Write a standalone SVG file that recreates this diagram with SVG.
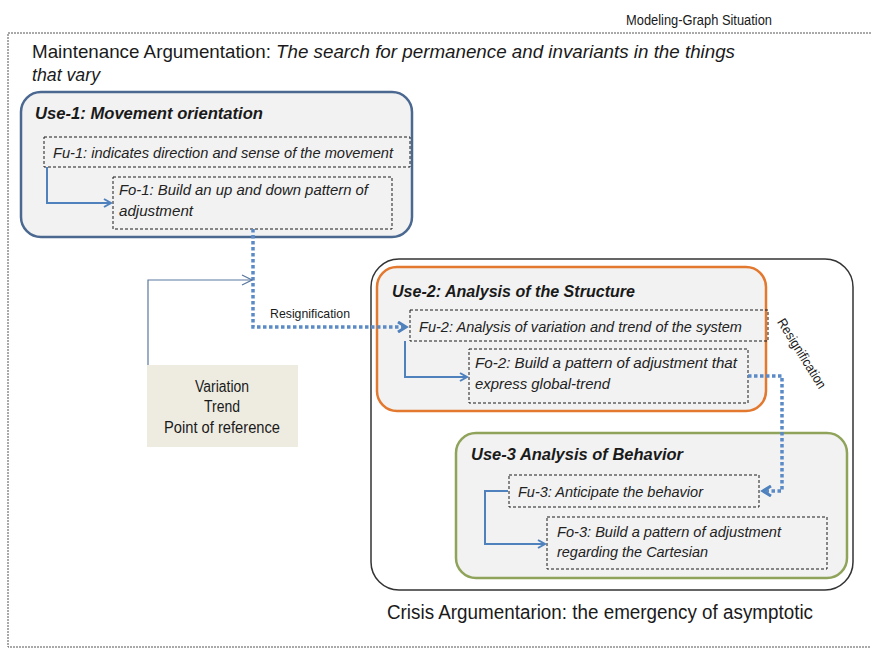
<svg xmlns="http://www.w3.org/2000/svg" width="871" height="649" viewBox="0 0 871 649">
<style>
text{font-family:"Liberation Sans Narrow","Liberation Sans",Arial,sans-serif;fill:#1a1a1a}
.it{font-style:italic}
.ttl{font-style:italic;font-weight:bold;font-size:16px}
.lbl{font-style:italic;font-size:15.5px;fill:#222}
.dash{fill:none;stroke:#1a1a1a;stroke-width:1;stroke-dasharray:3 2}
.use{fill:#f2f2f2;stroke-width:2.5}
.conn{fill:none;stroke:#4f81bd;stroke-width:2}
.dot{fill:none;stroke:#5b8ac6;stroke-width:3.5;stroke-dasharray:3.5 2.5}
.thin{fill:none;stroke:#5a78a0;stroke-width:1.2}
</style>
<defs>
<marker id="ah" viewBox="0 0 10 10" refX="8" refY="5" markerWidth="10" markerHeight="10" markerUnits="userSpaceOnUse" orient="auto">
<path d="M1,1 L8,5 L1,9" fill="none" stroke="#4f81bd" stroke-width="2"/>
</marker>
<marker id="ahd" viewBox="0 0 12 12" refX="9" refY="6" markerWidth="12" markerHeight="12" markerUnits="userSpaceOnUse" orient="auto">
<path d="M1,1 L9,6 L1,11" fill="none" stroke="#4f81bd" stroke-width="3"/>
</marker>
<marker id="aht" viewBox="0 0 12 12" refX="11" refY="6" markerWidth="12" markerHeight="12" markerUnits="userSpaceOnUse" orient="auto">
<path d="M1,1 L11,6 L1,11" fill="none" stroke="#5a78a0" stroke-width="1.2"/>
</marker>
</defs>
<rect width="871" height="649" fill="#ffffff"/>

<g id="frame">
<rect x="8" y="33" width="880" height="614" fill="none" stroke="#555" stroke-width="1" stroke-dasharray="2 1"/>
<text x="626" y="25" font-size="14" textLength="146" lengthAdjust="spacingAndGlyphs">Modeling-Graph Situation</text>
<text x="32" y="58" font-size="18.5" textLength="703" lengthAdjust="spacingAndGlyphs">Maintenance Argumentation: <tspan class="it">The search for permanence and invariants in the things</tspan></text>
<text x="32" y="81" font-size="18.5" class="it" textLength="68" lengthAdjust="spacingAndGlyphs">that vary</text>
<text x="387" y="619" font-size="20" textLength="426" lengthAdjust="spacingAndGlyphs">Crisis Argumentarion: the emergency of asymptotic</text>
</g>

<g id="crisis-container">
<rect x="371" y="259" width="482" height="331" rx="28" fill="#ffffff" stroke="#333" stroke-width="1.5"/>
</g>

<g id="use-1">
<rect class="use" x="21" y="92" width="391" height="145" rx="20" stroke="#4a6890"/>
<text class="ttl" x="35" y="119" textLength="228" lengthAdjust="spacingAndGlyphs">Use-1: Movement orientation</text>
</g>
<g id="fu-1">
<rect class="dash" x="44" y="137" width="366" height="30"/>
<text class="lbl" x="53" y="158" textLength="340" lengthAdjust="spacingAndGlyphs">Fu-1: indicates direction and sense of the movement</text>
</g>
<g id="fo-1">
<rect class="dash" x="113" y="177" width="279" height="52"/>
<text class="lbl" x="119" y="195" textLength="249" lengthAdjust="spacingAndGlyphs">Fo-1: Build an up and down pattern of</text>
<text class="lbl" x="119" y="216" textLength="74" lengthAdjust="spacingAndGlyphs">adjustment</text>
</g>

<g id="use-2">
<rect class="use" x="377" y="267" width="389" height="144" rx="20" stroke="#e3782f"/>
<text class="ttl" x="392" y="297" textLength="243" lengthAdjust="spacingAndGlyphs">Use-2: Analysis of the Structure</text>
</g>
<g id="fu-2">
<rect class="dash" x="410" y="310" width="358" height="31"/>
<text class="lbl" x="419" y="332" textLength="323" lengthAdjust="spacingAndGlyphs">Fu-2: Analysis of variation and trend of the system</text>
</g>
<g id="fo-2">
<rect class="dash" x="469" y="349" width="279" height="54"/>
<text class="lbl" x="475" y="368" textLength="262" lengthAdjust="spacingAndGlyphs">Fo-2: Build a pattern of adjustment that</text>
<text class="lbl" x="475" y="389" textLength="135" lengthAdjust="spacingAndGlyphs">express global-trend</text>
</g>

<g id="use-3">
<rect class="use" x="456" y="433" width="391" height="145" rx="20" stroke="#8fa45a"/>
<text class="ttl" x="471" y="460" textLength="212" lengthAdjust="spacingAndGlyphs">Use-3 Analysis of Behavior</text>
</g>
<g id="fu-3">
<rect class="dash" x="509" y="475" width="250" height="32"/>
<text class="lbl" x="518" y="497" textLength="185" lengthAdjust="spacingAndGlyphs">Fu-3: Anticipate the behavior</text>
</g>
<g id="fo-3">
<rect class="dash" x="547" y="517" width="280" height="52"/>
<text class="lbl" x="557" y="537" textLength="224" lengthAdjust="spacingAndGlyphs">Fo-3: Build a pattern of adjustment</text>
<text class="lbl" x="557" y="557" textLength="151" lengthAdjust="spacingAndGlyphs">regarding the Cartesian</text>
</g>

<g id="variation">
<rect x="147" y="365" width="151" height="82" fill="#eeece1"/>
<text x="222" y="392" font-size="16" text-anchor="middle" textLength="54" lengthAdjust="spacingAndGlyphs">Variation</text>
<text x="222" y="412" font-size="16" text-anchor="middle" textLength="36" lengthAdjust="spacingAndGlyphs">Trend</text>
<text x="222" y="433" font-size="16" text-anchor="middle" textLength="116" lengthAdjust="spacingAndGlyphs">Point of reference</text>
</g>

<g id="connectors">
<path class="conn" d="M47,167 V203 H111" marker-end="url(#ah)"/>
<path class="conn" d="M405,341 V377 H467" marker-end="url(#ah)"/>
<path class="conn" d="M508,491 H485 V544 H545" marker-end="url(#ah)"/>
<path class="dot" d="M253,229 V327 H406" marker-end="url(#ahd)"/>
<path class="dot" d="M748,376 H782 V491 H763" marker-end="url(#ahd)"/>
<path class="thin" d="M148,365 V280 H252" marker-end="url(#aht)"/>
<text x="270" y="318" font-size="13.5" textLength="80" lengthAdjust="spacingAndGlyphs">Resignification</text>
<text x="798" y="356" font-size="13.5" text-anchor="middle" textLength="80" lengthAdjust="spacingAndGlyphs" transform="rotate(58 798 356)">Resignification</text>
</g>
</svg>
